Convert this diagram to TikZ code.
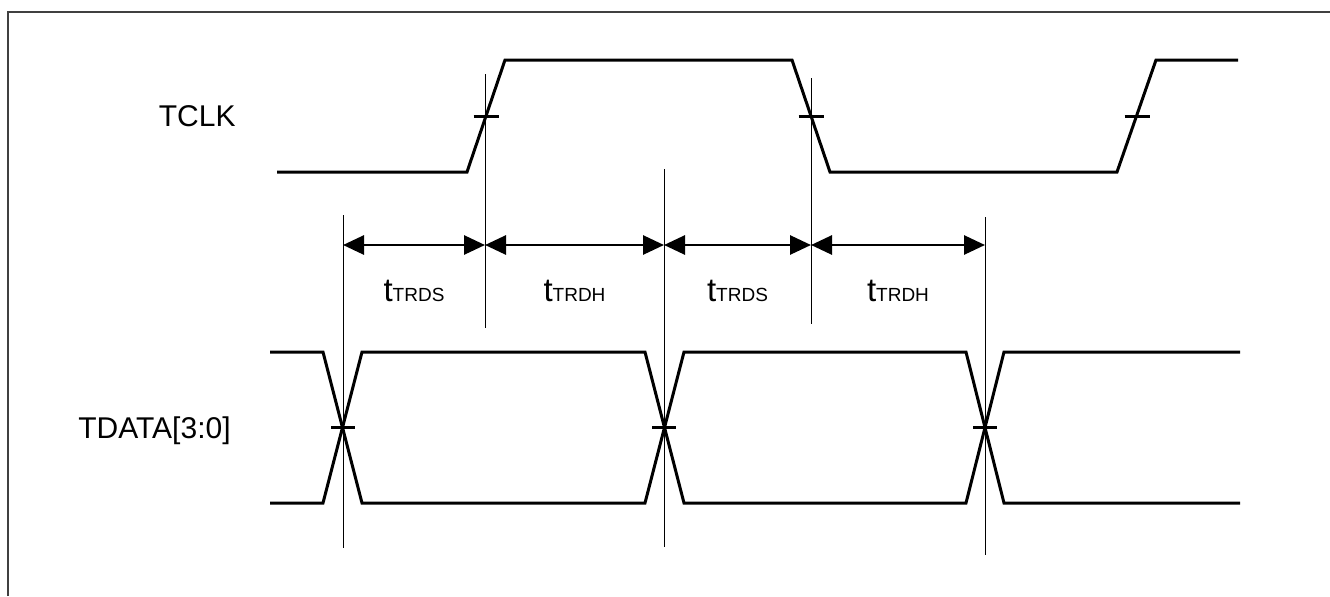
\documentclass[tikz,border=0pt]{standalone}
\usepackage{fontspec}
\setmainfont{Liberation Sans}
\usetikzlibrary{arrows.meta}
\newcommand{\tname}[1]{{\fontsize{16.5}{19}\selectfont t}{\fontsize{9.5}{11}\selectfont #1}}
\begin{document}
\begin{tikzpicture}[x=0.5pt,y=-0.5pt,font=\fontsize{15}{18}\selectfont,
  sig/.style={line width=1.5pt,line join=miter},
  guide/.style={line width=0.5pt},
  span/.style={line width=1.4pt,{Triangle[length=10.5pt,width=9.5pt]}-{Triangle[length=10.5pt,width=9.5pt]}},
  lab/.style={inner sep=0pt}]
\useasboundingbox (0,0) rectangle (1330,596);
\draw[line width=0.75pt,black!75] (8,596)--(8,12)--(1330,12);
\node[lab,anchor=base east] (tclk) at (236,126) {TCLK};
\node[lab,anchor=base east] (tdata) at (231,438) {TDATA[3:0]};
\draw[sig] (277,172)--(467,172)--(505,60)--(792,60)--(830,172)--(1117,172)--(1156,60)--(1238,60);
\draw[sig] (270,352)--(323,352)--(362,503)--(645,503)--(684,352)--(966,352)--(1004,503)--(1240,503);
\draw[sig] (270,503)--(323,503)--(362,352)--(645,352)--(684,503)--(966,503)--(1004,352)--(1240,352);
\foreach \x in {486,811,1137} \draw[sig] (\x-12.5,116)--(\x+12.5,116);
\foreach \x in {343,664,985} \draw[sig] (\x-12,427)--(\x+12,427);
\draw[guide] (485,74)--(485,328);
\draw[guide] (811,78)--(811,324);
\draw[guide] (343,215)--(343,548);
\draw[guide] (664,169)--(664,547);
\draw[guide] (985,217)--(985,555);
\coordinate (s1) at (343,245);\coordinate (h1) at (485,245);
\coordinate (s2) at (664,245);\coordinate (h2) at (811,245);
\coordinate (s3) at (985,245);
\foreach \a/\b/\lbl in {s1/h1/TRDS,h1/s2/TRDH,s2/h2/TRDS,h2/s3/TRDH}
  \draw[span] (\a)--(\b) node[midway,lab,anchor=base,yshift=-28pt] (l-\a) {\tname{\lbl}};
\end{tikzpicture}
\end{document}
